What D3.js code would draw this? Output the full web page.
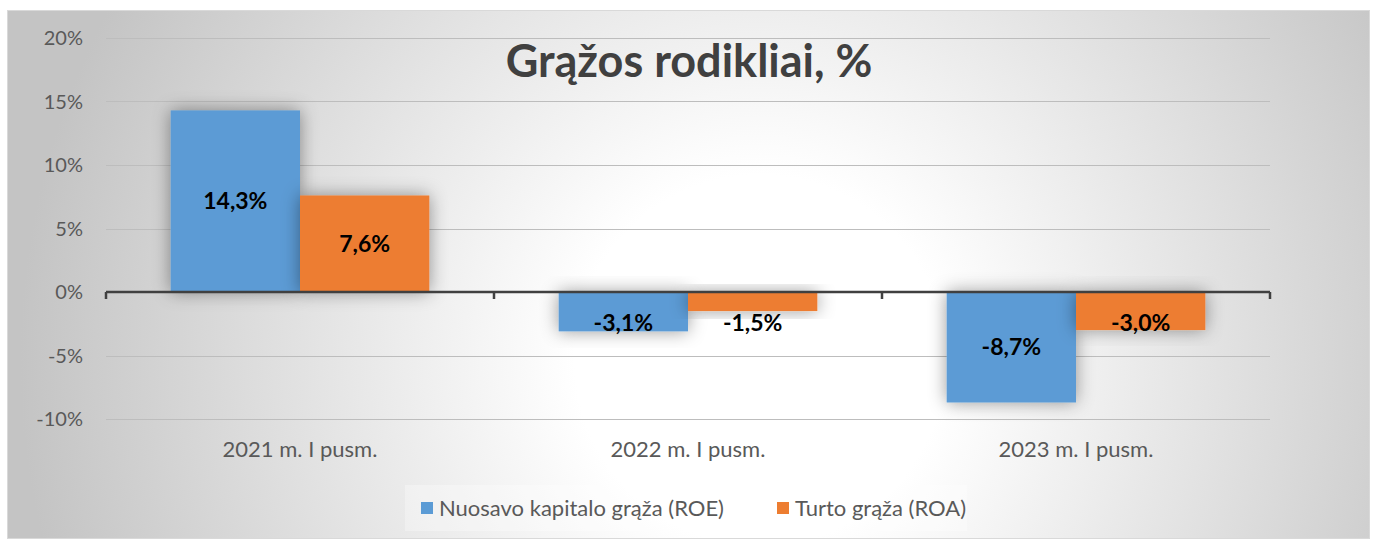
<!DOCTYPE html>
<html>
<head>
<meta charset="utf-8">
<script src="https://cdn.jsdelivr.net/npm/d3@7"></script>
<style>
  body { margin: 0; background: #fff; }
  svg { display: block; }
</style>
</head>
<body>
<div id="chart"></div>
<script>
"use strict";

// chart data
const categories = ["2021 m. I pusm.", "2022 m. I pusm.", "2023 m. I pusm."];
const series = ["Nuosavo kapitalo grąža (ROE)", "Turto grąža (ROA)"];
const roe = [14.3, -3.1, -8.7];
const roa = [7.6, -1.5, -3.0];
const yTicks = [-10, -5, 0, 5, 10, 15, 20];
const colors = ["#5B9BD5", "#ED7D31"];

const W = 1375, H = 543;
const font = "Lato, 'Open Sans', sans-serif";

const rows = categories.map((c, i) => ({cat: c, vals: [roe[i], roa[i]]}));

const svg = d3.select("#chart").append("svg")
  .attr("width", W).attr("height", H);

const defs = svg.append("defs");
const grad = defs.append("radialGradient")
  .attr("id", "bg").attr("gradientUnits", "userSpaceOnUse")
  .attr("cx", 760).attr("cy", 360).attr("r", 740);
grad.append("stop").attr("offset", "0%").attr("stop-color", "#ffffff");
grad.append("stop").attr("offset", "25%").attr("stop-color", "#ffffff");
grad.append("stop").attr("offset", "100%").attr("stop-color", "#c4c4c4");

const shadow = defs.append("filter").attr("id", "sh")
  .attr("x", "-40%").attr("y", "-40%").attr("width", "180%").attr("height", "180%");
shadow.append("feDropShadow")
  .attr("dx", 0).attr("dy", 0).attr("stdDeviation", 9)
  .attr("flood-color", "#000").attr("flood-opacity", 0.4);

// frame
svg.append("rect")
  .attr("x", 7.5).attr("y", 10.5).attr("width", 1362).attr("height", 528)
  .attr("fill", "url(#bg)").attr("stroke", "#d9d9d9");

const x = d3.scaleBand().domain(categories).range([106, 1270]);
const xs = d3.scaleBand().domain(d3.range(series.length))
  .range([0, x.bandwidth()]).paddingInner(0).paddingOuter(0.5);
const y = d3.scaleLinear().domain([-10, 20]).range([419, 38]);

// gridlines
svg.append("g").selectAll("line")
  .data(yTicks.filter(d => d !== 0))
  .join("line")
    .attr("x1", 106).attr("x2", 1270)
    .attr("y1", d => Math.round(y(d)) + 0.5).attr("y2", d => Math.round(y(d)) + 0.5)
    .attr("stroke", "#bdbdbd").attr("stroke-width", 1.2);

// y labels
svg.append("g").selectAll("text")
  .data(yTicks)
  .join("text")
    .attr("x", 83).attr("y", d => y(d))
    .attr("dy", "0.35em")
    .attr("text-anchor", "end")
    .attr("font-family", font).attr("font-size", 20)
    .attr("fill", "#595959")
    .text(d => d + "%");

// bars
const grp = svg.append("g").selectAll("g")
  .data(rows)
  .join("g")
    .attr("transform", d => `translate(${x(d.cat)},0)`);

grp.selectAll("rect")
  .data(d => d.vals.map((v, i) => ({v, i})))
  .join("rect")
    .attr("x", d => xs(d.i))
    .attr("width", xs.bandwidth())
    .attr("y", d => y(Math.max(0, d.v)))
    .attr("height", d => Math.abs(y(d.v) - y(0)))
    .attr("fill", d => colors[d.i])
    .attr("filter", "url(#sh)");

// value labels
const fmt = v => d3.format(".1f")(v).replace("−", "-").replace(".", ",") + "%";
grp.selectAll("text")
  .data(d => d.vals.map((v, i) => ({v, i})))
  .join("text")
    .attr("x", d => xs(d.i) + xs.bandwidth() / 2)
    .attr("y", d => {
      const mid = (y(d.v) + y(0)) / 2;
      return d.v < 0 ? Math.max(mid, y(0) + 31) : mid;
    })
    .attr("dy", "0.35em")
    .attr("text-anchor", "middle")
    .attr("font-family", font).attr("font-weight", "bold").attr("font-size", 23)
    .attr("fill", "#000")
    .text(d => fmt(d.v));

// zero axis
const axis = svg.append("g").attr("transform", `translate(0,${y(0)})`);
axis.append("line")
  .attr("x1", 106).attr("x2", 1270)
  .attr("stroke", "#404040").attr("stroke-width", 2.5);
axis.selectAll(".bnd")
  .data(d3.range(categories.length + 1))
  .join("line")
    .attr("class", "bnd")
    .attr("x1", i => 106 + i * x.step()).attr("x2", i => 106 + i * x.step())
    .attr("y1", 0).attr("y2", 7)
    .attr("stroke", "#404040").attr("stroke-width", 2.5);

// category labels
svg.append("g").selectAll("text")
  .data(categories)
  .join("text")
    .attr("x", d => x(d) + x.bandwidth() / 2)
    .attr("y", 449)
    .attr("dy", "0.35em")
    .attr("text-anchor", "middle")
    .attr("font-family", font).attr("font-size", 22)
    .attr("fill", "#595959")
    .text(d => d);

// title
svg.append("text")
  .attr("x", 689).attr("y", 77)
  .attr("text-anchor", "middle")
  .attr("font-family", font).attr("font-weight", "bold").attr("font-size", 45)
  .attr("fill", "#404040")
  .text("Grąžos rodikliai, %");

// legend
svg.append("rect")
  .attr("x", 405).attr("y", 485).attr("width", 562).attr("height", 46)
  .attr("fill", "#fff").attr("opacity", 0.3);

const legX = [421, 777];
const leg = svg.append("g").selectAll("g")
  .data(series)
  .join("g")
    .attr("transform", (d, i) => `translate(${legX[i]},508)`);
leg.append("rect")
  .attr("x", 0).attr("y", -6).attr("width", 12).attr("height", 12)
  .attr("fill", (d, i) => colors[i]);
leg.append("text")
  .attr("x", 18).attr("dy", "0.35em")
  .attr("font-family", font).attr("font-size", 22)
  .attr("fill", "#595959")
  .text(d => d);
</script>
</body>
</html>
